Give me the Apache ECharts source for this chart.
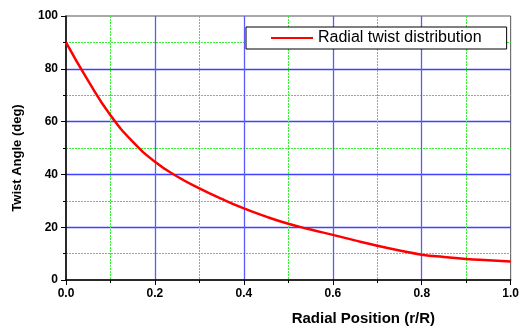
<!DOCTYPE html>
<html>
<head>
<meta charset="utf-8">
<script src="https://cdn.jsdelivr.net/npm/echarts@6/dist/echarts.min.js"></script>
<style>
  html, body { margin: 0; padding: 0; background: #fff; }
  #main { width: 522px; height: 331px; }
</style>
</head>
<body>
<div id="main"></div>
<script>
// radial position r/R and twist angle (deg)
var radialPos = [0, 0.05, 0.1, 0.15, 0.2, 0.25, 0.3, 0.35, 0.4, 0.45, 0.5, 0.55, 0.6, 0.65, 0.7, 0.75, 0.8, 0.85, 0.9, 0.95, 1.0];
var twistAngle = [90, 75.4, 62.4, 52.4, 44.8, 39.2, 34.7, 30.7, 27.1, 24, 21.3, 19.1, 17.1, 15, 13, 11.2, 9.6, 8.7, 8.0, 7.5, 7.0];
var seriesName = 'Radial twist distribution';

var chart = echarts.init(document.getElementById('main'));

var data = radialPos.map(function (r, i) { return [r, twistAngle[i]]; });

var font = 'Arial, "Liberation Sans", sans-serif';

var option = {
  animation: false,
  grid: {
    left: 66, right: 8, top: 16, bottom: 47,
    show: true, borderColor: '#555', borderWidth: 1
  },
  legend: {
    data: [seriesName],
    left: 246, top: 27,
    padding: [3, 25, 3, 25],
    borderColor: '#000', borderWidth: 1,
    backgroundColor: '#fff',
    icon: 'rect', itemWidth: 42, itemHeight: 2,
    textStyle: { fontFamily: font, fontSize: 16, color: '#000' }
  },
  xAxis: {
    type: 'value', min: 0, max: 1, interval: 0.2,
    name: 'Radial Position (r/R)', nameLocation: 'middle', nameGap: 31,
    nameTextStyle: { fontFamily: font, fontSize: 15, fontWeight: 'bold', color: '#000', padding: [0, 0, 0, 150] },
    axisLine: { show: true, onZero: false, lineStyle: { color: '#000', width: 1.5 } },
    axisTick: { show: true, length: 5, lineStyle: { color: '#000' } },
    minorTick: { show: true, splitNumber: 2, length: 3, lineStyle: { color: '#000' } },
    axisLabel: {
      fontFamily: font, fontSize: 12, fontWeight: 'bold', color: '#000', margin: 8,
      formatter: function (v) { return v.toFixed(1); }
    },
    splitLine: { show: true, showMinLine: false, showMaxLine: false, lineStyle: { color: '#5a5aff', width: 1.3 } },
    minorSplitLine: { show: true, lineStyle: { color: '#33ee33', width: 1, type: [2, 1] } }
  },
  yAxis: {
    type: 'value', min: 0, max: 100, interval: 20,
    name: 'Twist Angle (deg)', nameLocation: 'middle', nameGap: 42,
    nameTextStyle: { fontFamily: font, fontSize: 13, fontWeight: 'bold', color: '#000', padding: [0, 20, 0, 0] },
    axisLine: { show: true, onZero: false, lineStyle: { color: '#000', width: 1.5 } },
    axisTick: { show: true, length: 5, lineStyle: { color: '#000' } },
    minorTick: { show: true, splitNumber: 2, length: 3, lineStyle: { color: '#000' } },
    axisLabel: { fontFamily: font, fontSize: 12, fontWeight: 'bold', color: '#000', margin: 8 },
    splitLine: { show: true, showMinLine: false, showMaxLine: false, lineStyle: { color: '#4040ff', width: 1.3 } },
    minorSplitLine: { show: true, lineStyle: { color: '#33ee33', width: 1, type: [2, 1] } }
  },
  series: [{
    name: seriesName,
    type: 'line',
    data: data,
    smooth: 0.5,
    showSymbol: false,
    lineStyle: { color: '#ff0000', width: 2.5 },
    itemStyle: { color: '#ff0000' }
  }]
};

chart.setOption(option);
</script>
</body>
</html>
